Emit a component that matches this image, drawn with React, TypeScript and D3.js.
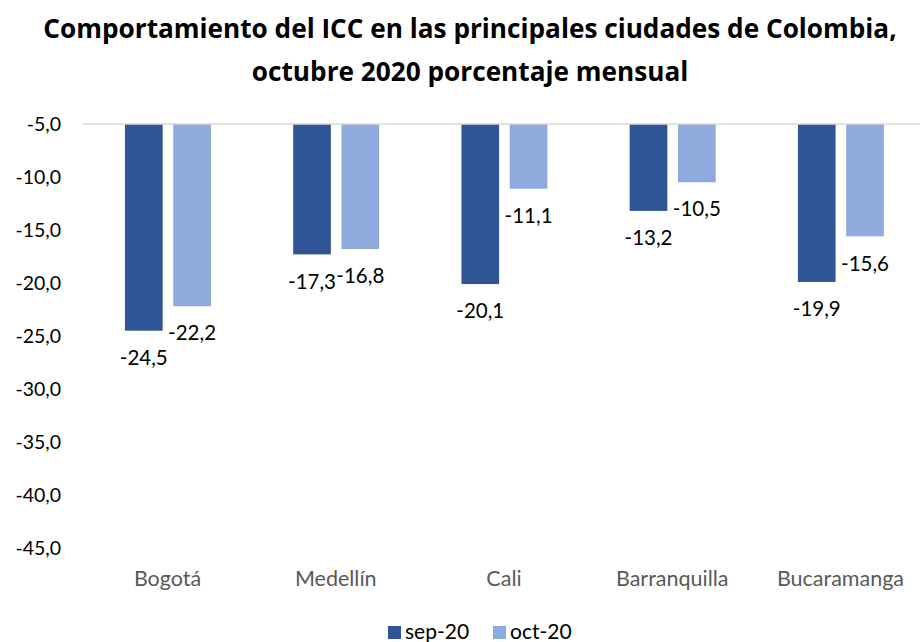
import React from "react";
import * as d3 from "d3";

const categories = ["Bogotá", "Medellín", "Cali", "Barranquilla", "Bucaramanga"];
const sep20 = [-24.5, -17.3, -20.1, -13.2, -19.9];
const oct20 = [-22.2, -16.8, -11.1, -10.5, -15.6];
const seriesNames = ["sep-20", "oct-20"];
const yTicks = [-5, -10, -15, -20, -25, -30, -35, -40, -45];

const colors = ["#2F5597", "#8FAADC"];
const font = "Lato, 'Open Sans', sans-serif";

export default function App() {
  const W = 920, H = 642;
  const x = d3.scaleBand<string>().domain(categories).range([83.4, 924.6]);
  const y = d3.scaleLinear().domain([-5, -45]).range([124, 548]);
  const bwBand = x.bandwidth();
  const inner = d3.scaleBand<string>().domain(seriesNames)
    .range([0.247 * bwBand, 0.758 * bwBand]).paddingInner(0.22).paddingOuter(0);
  const series = [sep20, oct20];
  const fmt = (v: number) => v.toFixed(1).replace(".", ",");

  return (
    <svg width={W} height={H} style={{ position: "absolute", left: 0, top: 0, background: "#fff" }} fontFamily={font}>
      <text x={470} y={38} textAnchor="middle" fontSize={26.2} fontWeight="bold" fill="#000" fontFamily="'Open Sans', sans-serif">
        Comportamiento del ICC en las principales ciudades de Colombia,
      </text>
      <text x={470} y={80.5} textAnchor="middle" fontSize={26.2} fontWeight="bold" fill="#000" fontFamily="'Open Sans', sans-serif">
        octubre 2020 porcentaje mensual
      </text>
      {yTicks.map((t) => (
        <text key={t} x={61} y={y(t)} dy="0.35em" textAnchor="end" fontSize={19.5} fill="#000">
          {fmt(t)}
        </text>
      ))}
      {series.map((vals, si) =>
        vals.map((v, i) => {
          const bx = (x(categories[i]) ?? 0) + (inner(seriesNames[si]) ?? 0);
          const bw = inner.bandwidth();
          return (
            <g key={`${si}-${i}`}>
              <rect x={bx} y={y(-5)} width={bw} height={y(v) - y(-5)} fill={colors[si]} />
              <text x={bx + bw / 2} y={y(v) + 27} dy="0.35em" textAnchor="middle" fontSize={20.5} fill="#000">
                {fmt(v)}
              </text>
            </g>
          );
        })
      )}
      <line x1={83} x2={920} y1={y(-5)} y2={y(-5)} stroke="#D9D9D9" strokeWidth={1.5} />
      {categories.map((c) => (
        <text key={c} x={(x(c) ?? 0) + x.bandwidth() / 2} y={578} dy="0.35em" textAnchor="middle" fontSize={21.5} fill="#595959">
          {c}
        </text>
      ))}
      <rect x={388} y={626} width={13} height={13} fill={colors[0]} />
      <text x={405} y={632} dy="0.35em" fontSize={21} fill="#000">{seriesNames[0]}</text>
      <rect x={493} y={626} width={13} height={13} fill={colors[1]} />
      <text x={510} y={632} dy="0.35em" fontSize={21} fill="#000">{seriesNames[1]}</text>
    </svg>
  );
}
